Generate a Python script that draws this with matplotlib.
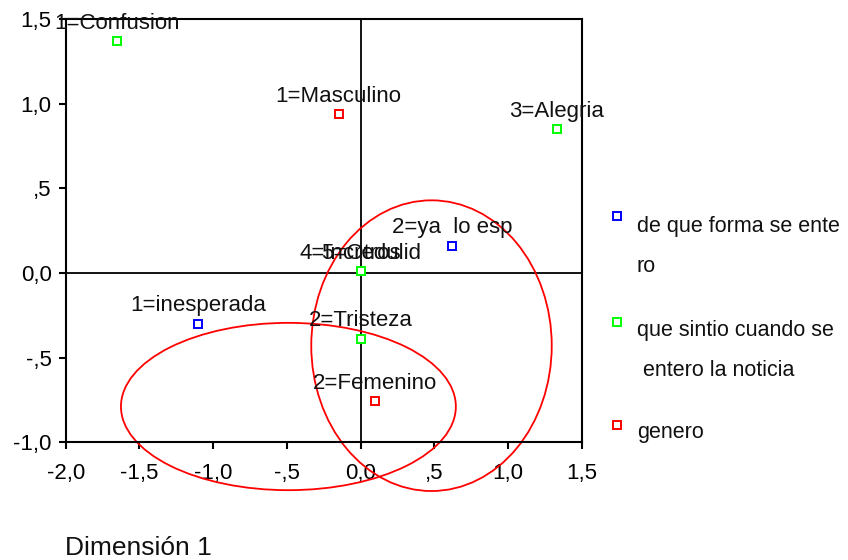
import matplotlib
matplotlib.use("Agg")
import matplotlib.pyplot as plt
from matplotlib.patches import Ellipse
from matplotlib.lines import Line2D
from matplotlib.ticker import FuncFormatter

plt.rcParams['font.family'] = ['Liberation Sans', 'DejaVu Sans']
FS = 16

# Category points (Dimension 1, Dimension 2)
forma_labels = ["1=inesperada", "2=ya  lo esp"]
forma_x = [-1.10, 0.62]
forma_y = [-0.30, 0.16]

sintio_labels = ["1=Confusion", "2=Tristeza", "3=Alegria", "4=Incredulid", "5=Otros"]
sintio_x = [-1.65, 0.00, 1.33, 0.00, 0.00]
sintio_y = [1.37, -0.39, 0.85, 0.01, 0.01]

genero_labels = ["1=Masculino", "2=Femenino"]
genero_x = [-0.15, 0.10]
genero_y = [0.94, -0.76]

# Confidence ellipses (center x, center y, width, height)
ell_cx = [-0.49, 0.48]
ell_cy = [-0.79, -0.43]
ell_w = [2.27, 1.63]
ell_h = [0.99, 1.72]

legend_lines = [["de que forma se ente", "ro"],
                ["que sintio cuando se", " entero la noticia"],
                ["genero"]]
colors = ["#0000ff", "#00ff00", "#ff0000"]

xticks = [-2.0, -1.5, -1.0, -0.5, 0.0, 0.5, 1.0, 1.5]
yticks = [-1.0, -0.5, 0.0, 0.5, 1.0, 1.5]

fig = plt.figure(figsize=(8.48, 5.6), dpi=100)
ax = fig.add_axes([0.0774, 0.2107, 0.6089, 0.7545])

ax.axhline(0, color='black', lw=1.3, zorder=1)
ax.axvline(0, color='black', lw=1.3, zorder=1)

for (xs, ys, labs), c in zip([(forma_x, forma_y, forma_labels),
                               (sintio_x, sintio_y, sintio_labels),
                               (genero_x, genero_y, genero_labels)], colors):
    ax.plot(xs, ys, linestyle='none', marker='s', markersize=6,
            markerfacecolor='white', markeredgecolor=c, markeredgewidth=1.4,
            zorder=3, clip_on=False)
    for x, y, t in zip(xs, ys, labs):
        ax.annotate(t, (x, y), xytext=(0, 9), textcoords='offset points',
                    ha='center', va='baseline', fontsize=FS, color='#111111',
                    annotation_clip=False, zorder=4)

for cx, cy, w, h in zip(ell_cx, ell_cy, ell_w, ell_h):
    e = Ellipse((cx, cy), w, h, fill=False, edgecolor='#ff0000', lw=1.3,
                clip_on=False, zorder=2)
    ax.add_patch(e)

ax.set_xlim(-2.0, 1.5)
ax.set_ylim(-1.0, 1.5)


def fmt(v, pos):
    s = f"{v:.1f}"
    if s in ("0.0", "-0.0"):
        return "0,0"
    s = s.replace("0.", ".") if abs(v) < 1 else s
    return s.replace(".", ",")


ax.set_xticks(xticks)
ax.set_yticks(yticks)
ax.xaxis.set_major_formatter(FuncFormatter(fmt))
ax.yaxis.set_major_formatter(FuncFormatter(fmt))
ax.tick_params(direction='out', length=5, width=1.5, labelsize=FS,
               colors='black')
ax.tick_params(axis='x', pad=10)
ax.tick_params(axis='y', pad=5)
for sp in ax.spines.values():
    sp.set_linewidth(1.5)
    sp.set_color('black')

# Legend (manual)
leg_marker_y = [216, 322, 425]
leg_text_y = [232, 336, 438]
for c, lines, my, ty in zip(colors, legend_lines, leg_marker_y, leg_text_y):
    fig.add_artist(Line2D([617 / 848], [1 - my / 560], marker='s', markersize=6,
                          markerfacecolor='white', markeredgecolor=c,
                          markeredgewidth=1.4, transform=fig.transFigure))
    for i, line in enumerate(lines):
        fig.text(637 / 848, 1 - (ty + 40 * i) / 560, line, fontsize=FS - 0.5,
                 ha='left', va='baseline', color='#111111')

fig.text(65 / 848, 1 - 555 / 560, "Dimensión 1", fontsize=19, ha='left',
         va='baseline', color='#111111')

fig.savefig("out.png", dpi=100)
